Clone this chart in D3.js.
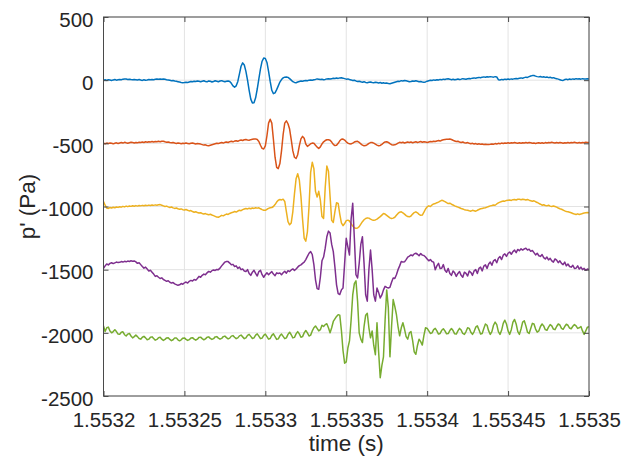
<!DOCTYPE html>
<html><head><meta charset="utf-8">
<script src="https://cdn.jsdelivr.net/npm/d3@7"></script>
<style>
body{margin:0;background:#fff}
text{font-family:"Liberation Sans",Arial,Helvetica,sans-serif;fill:#262626}
</style>
</head><body>
<svg id="c" width="637" height="470"></svg>
<script>
// sample grid: microseconds after t0 = 1.5532 s, one sample per µs
const t0 = 1.5532;
const sampleUs = d3.range(0, 301);

const blueValues = [
0,3,-2,4,1,-3,2,5,0,3,
6,4,8,10,9,6,8,5,3,6,
4,2,5,1,-2,3,0,2,5,3,
6,4,7,9,8,10,8,10,7,4,
2,-1,-4,-2,-6,-9,-12,-15,-18,-20,
-19,-16,-18,-14,-10,-12,-8,-11,-7,-9,
-12,-8,-5,-10,-13,-6,-9,-14,-10,-5,
-8,-12,-7,-4,-9,-13,-8,-6,-10,-25,
-45,-55,-45,-10,50,110,137,120,70,0,
-80,-150,-180,-178,-140,-70,10,90,150,175,
172,140,70,-10,-80,-107,-100,-75,-45,-15,
5,18,24,25,22,12,0,-12,-18,-20,
-15,-10,-6,-8,-4,-2,-5,0,2,-1,
3,6,10,8,5,7,3,6,10,12,
9,12,15,13,17,14,18,19,16,12,
8,10,5,2,-3,-1,-6,-10,-8,-13,
-16,-12,-18,-20,-17,-14,-18,-20,-16,-19,
-22,-18,-24,-20,-25,-22,-27,-28,-24,-20,
-16,-12,-8,-10,-4,-6,-2,-5,-8,-12,
-10,-6,-8,-4,-8,-12,-10,-14,-16,-14,
-8,-4,0,-3,2,0,4,1,6,3,
8,5,10,11,8,4,7,3,6,9,
5,8,12,10,7,11,14,12,16,18,
15,20,22,19,24,26,23,27,25,28,
26,24,28,25,4,2,6,3,8,5,
9,6,10,8,12,14,11,16,18,15,
20,24,22,28,33,36,37,32,28,26,
29,24,27,22,25,20,23,18,20,15,
12,8,4,0,-2,5,8,4,9,6,
10,7,12,9,11,8,12,10,9,11,
10];

const orangeValues = [
-500,-503,-498,-502,-497,-500,-504,-499,-496,-501,
-497,-494,-498,-492,-496,-499,-495,-491,-494,-497,
-493,-496,-491,-494,-490,-493,-488,-491,-487,-490,
-486,-489,-485,-488,-484,-487,-483,-484,-488,-491,
-489,-493,-496,-494,-498,-501,-497,-500,-503,-499,
-502,-498,-501,-504,-500,-497,-501,-505,-502,-503,
-506,-510,-514,-512,-517,-519,-515,-511,-507,-503,
-499,-502,-497,-494,-498,-492,-489,-493,-487,-484,
-488,-482,-479,-484,-477,-474,-478,-472,-469,-473,
-476,-471,-468,-466,-465,-470,-485,-515,-540,-545,
-520,-440,-340,-309,-340,-470,-610,-690,-700,-660,
-560,-430,-340,-322,-345,-387,-470,-560,-610,-620,
-590,-520,-465,-445,-460,-505,-524,-515,-503,-498,
-500,-515,-530,-540,-528,-505,-488,-478,-472,-471,
-475,-490,-508,-518,-515,-500,-480,-468,-466,-474,
-488,-498,-504,-505,-498,-490,-485,-484,-492,-505,
-514,-519,-518,-510,-500,-494,-493,-498,-506,-514,
-519,-517,-508,-497,-489,-487,-493,-503,-511,-513,
-512,-506,-498,-492,-495,-491,-497,-493,-489,-494,
-490,-495,-491,-488,-493,-490,-486,-491,-487,-490,
-494,-489,-485,-488,-483,-486,-481,-478,-482,-476,
-472,-470,-468,-467,-466,-470,-476,-481,-486,-484,
-489,-493,-490,-495,-498,-494,-499,-503,-500,-505,
-502,-507,-504,-508,-506,-509,-507,-510,-510,-508,
-505,-507,-502,-505,-500,-503,-498,-501,-497,-500,
-496,-499,-495,-498,-494,-497,-500,-496,-499,-495,
-498,-494,-497,-493,-496,-500,-497,-501,-498,-495,
-499,-496,-500,-494,-497,-493,-496,-492,-495,-498,
-494,-497,-493,-496,-499,-495,-498,-494,-497,-493,
-496,-492,-495,-498,-494,-497,-493,-495,-492,-494,
-493];

const yellowValues = [
-960,-990,-1012,-1015,-1008,-1012,-1006,-1010,-1004,-1007,
-1002,-1005,-999,-1003,-997,-1001,-996,-999,-994,-998,
-993,-997,-992,-995,-991,-994,-990,-993,-989,-992,
-988,-991,-987,-990,-986,-985,-990,-995,-1000,-997,
-1003,-1008,-1004,-1011,-1015,-1012,-1018,-1022,-1019,-1025,
-1028,-1024,-1030,-1035,-1032,-1040,-1045,-1041,-1048,-1052,
-1049,-1055,-1060,-1056,-1062,-1066,-1061,-1067,-1072,-1078,
-1084,-1085,-1078,-1070,-1074,-1066,-1060,-1063,-1055,-1050,
-1046,-1040,-1044,-1036,-1030,-1033,-1025,-1020,-1016,-1019,
-1014,-1018,-1012,-1015,-1010,-1013,-1010,-1018,-1025,-1030,
-1030,-1022,-1015,-1010,-1008,-1000,-985,-965,-950,-945,
-948,-942,-960,-1040,-1120,-1145,-1130,-1040,-900,-780,
-741,-790,-920,-1100,-1250,-1275,-1200,-1000,-730,-650,
-700,-880,-925,-880,-950,-1080,-1095,-850,-680,-720,
-920,-1110,-1126,-1040,-970,-975,-1060,-1130,-1152,-1135,
-1112,-1108,-1115,-1135,-1155,-1168,-1173,-1170,-1160,-1140,
-1120,-1105,-1095,-1090,-1092,-1100,-1106,-1108,-1106,-1100,
-1090,-1080,-1068,-1056,-1060,-1070,-1080,-1090,-1095,-1092,
-1085,-1070,-1055,-1045,-1042,-1050,-1060,-1072,-1080,-1082,
-1075,-1060,-1048,-1042,-1050,-1062,-1070,-1068,-1045,-1020,
-1003,-995,-1000,-988,-980,-977,-970,-965,-958,-951,
-955,-962,-970,-977,-974,-982,-988,-995,-1000,-1005,
-1010,-1016,-1020,-1025,-1028,-1030,-1034,-1037,-1030,-1033,
-1037,-1030,-1024,-1018,-1015,-1012,-1010,-1005,-1000,-995,
-992,-988,-990,-980,-972,-965,-960,-956,-958,-952,
-950,-948,-952,-946,-944,-948,-943,-943,-946,-942,
-945,-948,-944,-950,-954,-958,-955,-962,-968,-975,
-982,-990,-986,-992,-995,-990,-997,-1000,-996,-1000,
-1005,-1012,-1018,-1022,-1028,-1035,-1040,-1042,-1045,-1050,
-1055,-1060,-1063,-1058,-1063,-1060,-1055,-1052,-1050,-1048,
-1050];

const purpleValues = [
-1490,-1470,-1455,-1462,-1450,-1445,-1452,-1446,-1440,-1444,
-1442,-1436,-1440,-1434,-1438,-1432,-1435,-1430,-1433,-1431,
-1438,-1450,-1445,-1460,-1475,-1488,-1480,-1495,-1510,-1505,
-1520,-1535,-1553,-1548,-1560,-1570,-1565,-1578,-1585,-1592,
-1588,-1600,-1606,-1602,-1612,-1618,-1624,-1620,-1610,-1615,
-1604,-1598,-1606,-1592,-1585,-1590,-1578,-1583,-1570,-1553,
-1560,-1545,-1535,-1540,-1525,-1514,-1520,-1508,-1502,-1506,
-1498,-1500,-1488,-1470,-1455,-1440,-1435,-1436,-1448,-1462,
-1458,-1475,-1470,-1490,-1480,-1500,-1495,-1510,-1514,-1500,
-1530,-1545,-1520,-1505,-1530,-1550,-1515,-1505,-1540,-1560,
-1540,-1525,-1540,-1527,-1515,-1535,-1548,-1525,-1530,-1527,
-1540,-1525,-1512,-1528,-1508,-1515,-1502,-1494,-1506,-1495,
-1480,-1468,-1462,-1450,-1440,-1420,-1395,-1370,-1357,-1380,
-1460,-1580,-1650,-1655,-1560,-1430,-1400,-1330,-1240,-1195,
-1210,-1300,-1357,-1480,-1620,-1690,-1697,-1660,-1645,-1450,
-1252,-1320,-1384,-1100,-975,-1250,-1540,-1566,-1450,-1300,
-1239,-1450,-1700,-1749,-1500,-1344,-1500,-1700,-1749,-1645,
-1680,-1724,-1700,-1660,-1632,-1640,-1645,-1640,-1600,-1566,
-1570,-1540,-1500,-1470,-1435,-1440,-1438,-1420,-1400,-1392,
-1383,-1390,-1375,-1370,-1378,-1390,-1372,-1385,-1388,-1400,
-1415,-1430,-1420,-1435,-1440,-1501,-1470,-1450,-1490,-1488,
-1460,-1505,-1520,-1490,-1530,-1545,-1510,-1525,-1553,-1530,
-1515,-1545,-1560,-1520,-1530,-1550,-1510,-1522,-1545,-1510,
-1500,-1530,-1490,-1480,-1510,-1472,-1462,-1490,-1455,-1440,
-1465,-1430,-1420,-1445,-1410,-1396,-1420,-1385,-1375,-1395,
-1370,-1360,-1378,-1357,-1345,-1365,-1340,-1350,-1335,-1345,
-1336,-1330,-1345,-1338,-1355,-1348,-1365,-1383,-1370,-1390,
-1395,-1380,-1405,-1415,-1400,-1423,-1410,-1430,-1440,-1415,
-1425,-1445,-1430,-1450,-1460,-1440,-1470,-1455,-1475,-1480,
-1465,-1490,-1488,-1470,-1495,-1480,-1500,-1490,-1505,-1495,
-1500];

const greenValues = [
-1946,-1990,-1960,-1955,-1985,-2000,-1990,-1975,-1990,-2010,
-2012,-1995,-1992,-2015,-2025,-2010,-2005,-2025,-2040,-2030,
-2018,-2030,-2045,-2050,-2035,-2028,-2040,-2055,-2050,-2035,
-2032,-2045,-2058,-2052,-2038,-2035,-2050,-2060,-2052,-2040,
-2038,-2052,-2062,-2055,-2040,-2040,-2055,-2063,-2055,-2042,
-2040,-2052,-2060,-2054,-2040,-2038,-2050,-2058,-2050,-2036,
-2034,-2046,-2055,-2048,-2035,-2032,-2044,-2052,-2046,-2032,
-2030,-2042,-2050,-2044,-2030,-2026,-2038,-2048,-2042,-2026,
-2022,-2035,-2046,-2040,-2024,-2018,-2032,-2046,-2040,-2020,
-2012,-2028,-2045,-2040,-2018,-2008,-2026,-2046,-2042,-2020,
-2010,-2030,-2050,-2045,-2020,-2008,-2030,-2052,-2048,-2024,
-2010,-2028,-2046,-2040,-2012,-1995,-2015,-2040,-2036,-2008,
-1990,-2008,-2035,-2030,-2000,-1982,-2000,-2025,-2018,-1985,
-1960,-1946,-1965,-1985,-1975,-1940,-1950,-1935,-1928,-1960,
-2000,-1960,-1910,-1890,-1870,-1856,-1860,-1980,-2140,-2240,
-2230,-2120,-2064,-1900,-1700,-1610,-1588,-1750,-2000,-2050,
-2077,-1950,-1860,-1845,-1960,-2039,-1985,-2100,-2173,-1920,
-2150,-2355,-2260,-2190,-1900,-1660,-1800,-2190,-1950,-1737,
-1790,-1855,-1950,-2024,-1960,-1920,-1970,-2030,-2050,-2000,
-1990,-2060,-2150,-2170,-2100,-2050,-2070,-2097,-2020,-1960,
-1965,-1985,-2005,-2000,-1975,-1965,-1985,-2010,-2005,-1980,
-1968,-1985,-2008,-2006,-1982,-1966,-1982,-2008,-2010,-1985,
-1965,-1978,-2005,-2012,-1990,-1960,-1965,-1995,-2012,-1990,
-1955,-1945,-1975,-2010,-2005,-1965,-1930,-1940,-1985,-2012,
-1990,-1940,-1915,-1935,-1990,-2012,-1980,-1925,-1900,-1930,
-1985,-2012,-1975,-1915,-1894,-1930,-1990,-2012,-1970,-1915,
-1905,-1945,-1995,-2005,-1965,-1925,-1930,-1970,-1995,-1985,
-1950,-1930,-1945,-1975,-1980,-1955,-1935,-1945,-1970,-1975,
-1950,-1930,-1938,-1965,-1972,-1950,-1932,-1940,-1962,-1968,
-1948,-1935,-1945,-1965,-1960,-1950,-1985,-2012,-1985,-1955,
-1952];

const seriesColors = ["#0072BD","#D95319","#EDB120","#7E2F8E","#77AC30"];
const xTicks = [1.5532,1.55325,1.5533,1.55335,1.5534,1.55345,1.5535];
const xTickLabels = ["1.5532","1.55325","1.5533","1.55335","1.5534","1.55345","1.5535"];
const yTicks = [500,0,-500,-1000,-1500,-2000,-2500];
const yTickLabels = ["500","0","-500","-1000","-1500","-2000","-2500"];

const svg = d3.select("#c");
const L = 103.5, R = 589, T = 17, B = 396;
const x = d3.scaleLinear().domain([1.5532, 1.5535]).range([L, R]);
const y = d3.scaleLinear().domain([-2500, 500]).range([B, T]);

// grid
const grid = svg.append("g").attr("stroke", "#e3e3e3").attr("stroke-width", 1);
grid.selectAll(".gx").data(xTicks).join("line")
  .attr("x1", d => x(d)).attr("x2", d => x(d)).attr("y1", T).attr("y2", B);
grid.selectAll(".gy").data(yTicks).join("line")
  .attr("y1", d => y(d)).attr("y2", d => y(d)).attr("x1", L).attr("x2", R);

// lines
svg.append("clipPath").attr("id", "clip").append("rect")
  .attr("x", L).attr("y", T).attr("width", R - L).attr("height", B - T);
const seriesList = [blueValues, orangeValues, yellowValues, purpleValues, greenValues];
const line = d3.line()
  .x((d, i) => x(t0 + sampleUs[i] * 1e-6))
  .y(d => y(d));
svg.append("g").attr("clip-path", "url(#clip)")
  .selectAll("path").data(seriesList).join("path")
  .attr("d", d => line(d))
  .attr("fill", "none")
  .attr("stroke", (d, i) => seriesColors[i])
  .attr("stroke-width", 1.5)
  .attr("stroke-linejoin", "round");

// axes
const fs = "20.5px";
const axisColor = "#4a4a4a";
const ax = svg.append("g").attr("transform", `translate(0,${B})`)
  .call(d3.axisBottom(x).tickValues(xTicks).tickFormat((d, i) => xTickLabels[i])
    .tickSizeInner(-5).tickSizeOuter(0).tickPadding(16));
const ay = svg.append("g").attr("transform", `translate(${L},0)`)
  .call(d3.axisLeft(y).tickValues(yTicks).tickFormat((d, i) => yTickLabels[i])
    .tickSizeInner(-5).tickSizeOuter(0).tickPadding(10));
const axt = svg.append("g").attr("transform", `translate(0,${T})`)
  .call(d3.axisTop(x).tickValues(xTicks).tickFormat("").tickSizeInner(-5).tickSizeOuter(0));
const ayr = svg.append("g").attr("transform", `translate(${R},0)`)
  .call(d3.axisRight(y).tickValues(yTicks).tickFormat("").tickSizeInner(-5).tickSizeOuter(0));
[ax, ay, axt, ayr].forEach(g => {
  g.select(".domain").remove();
  g.selectAll("line").attr("stroke", axisColor);
  g.selectAll("text").attr("font-size", fs).attr("fill", "#262626")
    .attr("font-family", '"Liberation Sans", Arial, Helvetica, sans-serif');
});
ay.selectAll("text").attr("dy", "0.45em");

// box
svg.append("rect").attr("x", L).attr("y", T).attr("width", R - L).attr("height", B - T)
  .attr("fill", "none").attr("stroke", axisColor).attr("stroke-width", 1);

// axis labels
svg.append("text").attr("x", (L + R) / 2).attr("y", 451).attr("text-anchor", "middle")
  .attr("font-size", "22.5px").text("time (s)");
svg.append("text").attr("transform", `translate(35,${(T + B) / 2}) rotate(-90)`)
  .attr("text-anchor", "middle").attr("font-size", "22.5px").text("p' (Pa)");
</script>
</body></html>
